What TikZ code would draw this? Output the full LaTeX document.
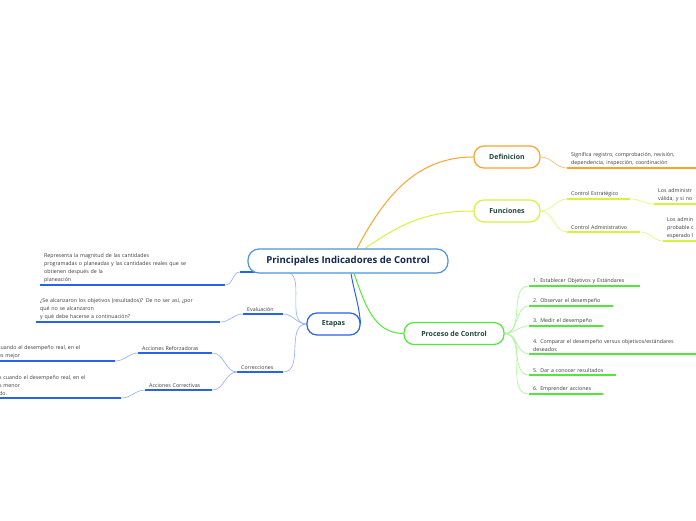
\documentclass[tikz,border=0pt]{standalone}
\usepackage{fontspec}
\setmainfont{Open Sans}
\usetikzlibrary{backgrounds}

\definecolor{rootblue}{HTML}{4D94DB}
\definecolor{titlecol}{HTML}{12284C}
\definecolor{maincol}{HTML}{1D4536}
\definecolor{leafcol}{HTML}{3A3A3A}
\definecolor{defor}{HTML}{F8A32C}
\definecolor{deforl}{HTML}{F9BA5E}
\definecolor{funyg}{HTML}{D8F23C}
\definecolor{funygl}{HTML}{E2F56E}
\definecolor{procgr}{HTML}{52E83A}
\definecolor{procgrl}{HTML}{A3F590}
\definecolor{etbl}{HTML}{2563EB}
\definecolor{etbll}{HTML}{8CADF5}

\begin{document}
\begin{tikzpicture}[x=1pt, y=-1pt,
    root/.style={draw=rootblue, line width=1.2pt, rounded corners=11pt, fill=white,
      minimum width=200pt, minimum height=24pt, text=titlecol,
      font=\fontsize{9.6}{11}\selectfont\bfseries},
    mainbox/.style={draw=#1, line width=1.2pt, rounded corners=10pt, fill=white,
      minimum height=22pt, text=maincol, font=\fontsize{7}{9}\selectfont\bfseries},
    topic/.style={anchor=south west, inner xsep=4pt, inner ysep=2.5pt, align=left,
      text=leafcol, font=\fontsize{5.3}{8}\selectfont},
    uline/.style={draw=#1, line width=1.8pt},
    link/.style={draw=#1, line width=0.6pt}]
    \clip (0,0) rectangle (696,520);

    % central topic and main branches
    \node[root] (root) at (348,261) {Principales Indicadores de Control};
    \node[mainbox=defor, minimum width=66pt] (def) at (507,157) {Definicion};
    \node[mainbox=funyg, minimum width=66pt] (func) at (507,211) {Funciones};
    \node[mainbox=procgr, minimum width=100pt] (proc) at (454,333.5) {Proceso de Control};
    \node[mainbox=etbl, minimum width=53pt] (etapas) at (333.5,324) {Etapas};

    % Definicion
    \node[topic, text width=132pt] (dleaf) at (567,168)
      {Significa registro, comprobación, revisión,\\dependencia, inspección, coordinación};

    % Funciones
    \node[topic, text width=55pt] (ce) at (567,199) {Control Estratégico};
    \node[topic, text width=65pt] (ca) at (567,232) {Control Administrativo};
    \node[topic, text width=80pt] (celeaf) at (654,204) {Los administr\\válida, y si no};
    \node[topic, text width=80pt] (caleaf) at (663,241) {Los admin\\probable c\\esperado l};

    % Proceso de Control
    \node[topic, text width=103pt] (p1) at (529,286) {1. Establecer Objetivos y Estándares};
    \node[topic, text width=76pt] (p2) at (529,306) {2. Observar el desempeño};
    \node[topic, text width=66pt] (p3) at (529,326) {3. Medir el desempeño};
    \node[topic, text width=167pt] (p4) at (529,354)
      {4. Comparar el desempeño versus objetivos/estándares\\deseados};
    \node[topic, text width=79pt] (p5) at (529,375) {5. Dar a conocer resultados};
    \node[topic, text width=66pt] (p6) at (529,394) {6. Emprender acciones};

    % Etapas
    \node[topic, minimum width=45pt] (mag) at (240,272) {};
    \node[topic, text width=32pt] (eval) at (243,314) {Evaluación};
    \node[topic, text width=38pt] (corr) at (237,372) {Correcciones};
    \node[topic, text width=66pt] (refz) at (138,353) {Acciones Reforzadoras};
    \node[topic, text width=59pt] (corv) at (145,390) {Acciones Correctivas};
    \node[topic, text width=177pt] (leafA) at (40,285)
      {Representa la magnitud de las cantidades\\programadas o planeadas y las cantidades reales que se\\obtienen después de la\\planeación};
    \node[topic, text width=176pt] (leafB) at (36,322)
      {¿Se alcanzaron los objetivos (resultados)? De no ser así, ¿por\\qué no se alcanzaron\\y qué debe hacerse a continuación?};
    \node[topic, text width=113pt] (leafC) at (-6,361)
      {cuando el desempeño real, en el\\es mejor};
    \node[topic, text width=121pt] (leafD) at (-8,398)
      {es cuando el desempeño real, en el\\es menor\\ado.};

    \begin{pgfonlayer}{background}
      % branches from the central topic
      \draw[defor, line width=1pt] ([xshift=9pt]root.north) to[out=62,in=180] (def.west);
      \draw[funyg, line width=1pt] ([xshift=17pt]root.north) to[out=35,in=180] (func.west);
      \draw[procgr, line width=1pt] ([xshift=6pt]root.south) to[out=-70,in=180] (proc.west);
      \draw[etbl, line width=1pt] ([xshift=3pt]root.south) to[out=-80,in=95] (etapas.east);

      % underlines
      \draw[uline=defor] (dleaf.south west) -- (dleaf.south east);
      \foreach \n in {ce,ca,celeaf,caleaf}
        \draw[uline=funyg] (\n.south west) -- (\n.south east);
      \foreach \n in {p1,p2,p3,p4,p5,p6}
        \draw[uline=procgr] (\n.south west) -- (\n.south east);
      \foreach \n in {mag,eval,corr,refz,corv,leafA,leafB,leafC,leafD}
        \draw[uline=etbl] (\n.south west) -- (\n.south east);

      % links
      \draw[link=deforl] (def.east) to[out=0,in=180] (dleaf.south west);
      \draw[link=funygl] (func.east) to[out=0,in=180] (ce.south west);
      \draw[link=funygl] (func.east) to[out=0,in=180] (ca.south west);
      \draw[link=funygl] (ce.south east) to[out=0,in=180] (celeaf.south west);
      \draw[link=funygl] (ca.south east) to[out=0,in=180] (caleaf.south west);
      \foreach \n in {p1,p2,p3,p4,p5,p6}
        \draw[link=procgrl] (proc.east) to[out=0,in=180] (\n.south west);
      \foreach \n in {mag,eval,corr}
        \draw[link=etbll] (\n.south east) to[out=0,in=180] (etapas.west);
      \draw[link=etbll] (leafA.south east) to[out=0,in=180] (mag.south west);
      \draw[link=etbll] (leafB.south east) to[out=0,in=180] (eval.south west);
      \draw[link=etbll] (refz.south east) to[out=0,in=180] (corr.south west);
      \draw[link=etbll] (corv.south east) to[out=0,in=180] (corr.south west);
      \draw[link=etbll] (leafC.south east) to[out=0,in=180] (refz.south west);
      \draw[link=etbll] (leafD.south east) to[out=0,in=180] (corv.south west);
    \end{pgfonlayer}
\end{tikzpicture}
\end{document}
